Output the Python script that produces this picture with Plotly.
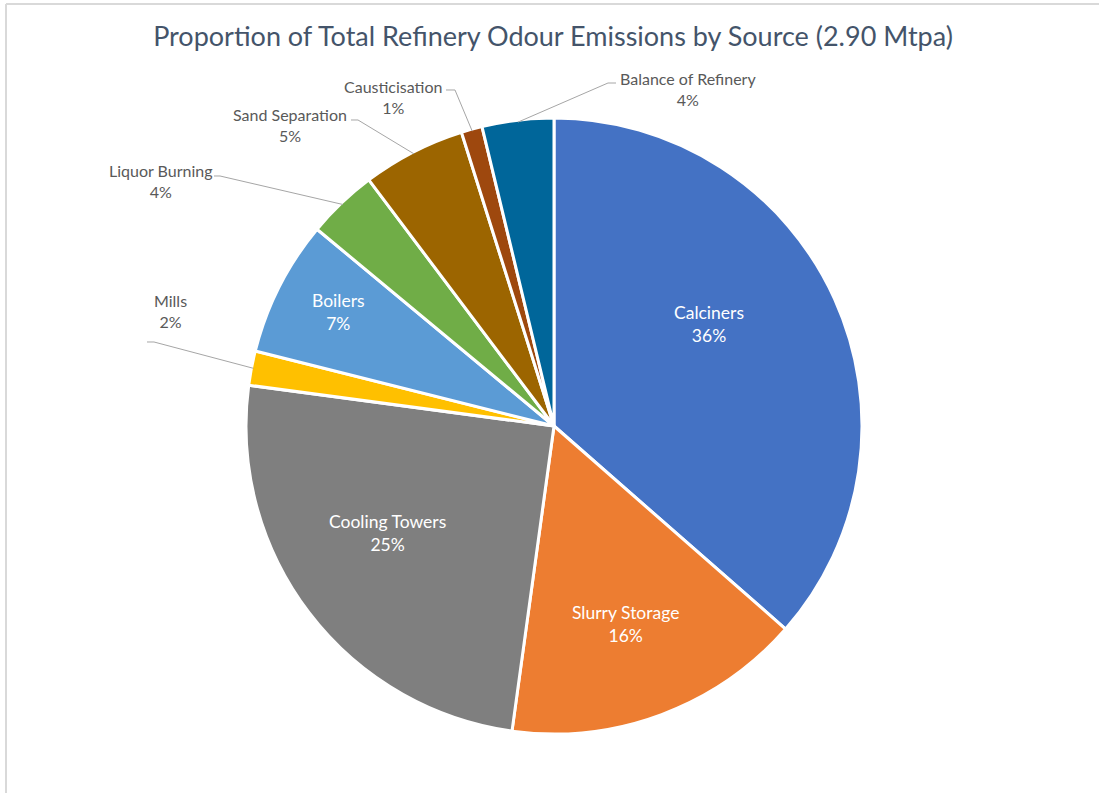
import math
import plotly.graph_objects as go

# ---- data ----
sources = ["Calciners", "Slurry Storage", "Cooling Towers", "Mills", "Boilers",
           "Liquor Burning", "Sand Separation", "Causticisation", "Balance of Refinery"]
shares = [36.4, 15.7, 24.9, 1.8, 7.1, 3.7, 5.4, 1.1, 3.75]
colors = ["#4472C4", "#ED7D31", "#7F7F7F", "#FFC000", "#5B9BD5",
          "#70AD47", "#9C6500", "#9E480E", "#00669A"]
title = "Proportion of Total Refinery Odour Emissions by Source (2.90 Mtpa)"

# ---- layout / style ----
W, H = 1099, 793
CX, CY, R = 554, 426, 306  # pie centre and radius in pixels
R_DOM = R + 2              # domain half-size (plotly draws slightly inside it)

def px(x):
    return x / W

def py(y):
    return 1 - y / H

total = sum(shares)
pcts = [round(v / total * 100) for v in shares]

# label placement (pixels)
inside_pos = {
    "Calciners": (709, 324),
    "Slurry Storage": (625, 624),
    "Cooling Towers": (387, 533),
    "Boilers": (338, 312),
}
outside_pos = {
    # text centre, leader start points (pixels)
    "Balance of Refinery": ((688, 89), [(616, 83), (608, 83)]),
    "Causticisation": ((393, 97), [(446, 90), (455, 90)]),
    "Sand Separation": ((290, 125), [(351, 120), (358, 120)]),
    "Liquor Burning": ((161, 181), [(214, 176), (220, 176)]),
    "Mills": ((170, 311), [(147, 342), (154, 342)]),
}

fig = go.Figure(go.Pie(
    labels=sources,
    values=shares,
    marker=dict(colors=colors, line=dict(color="white", width=3)),
    sort=False,
    direction="clockwise",
    rotation=0,
    textinfo="none",
    hoverinfo="label+percent",
    showlegend=False,
    domain=dict(x=[px(CX - R_DOM), px(CX + R_DOM)], y=[py(CY + R_DOM), py(CY - R_DOM)]),
))

annotations = []
shapes = []
cum = 0.0
for name, v, p in zip(sources, shares, pcts):
    mid = (cum + v / 2) / total * 2 * math.pi
    cum += v
    ex = CX + R * math.sin(mid)
    ey = CY - R * math.cos(mid)
    txt = f"{name}<br>{p}%"
    if name in inside_pos:
        x, y = inside_pos[name]
        annotations.append(dict(x=px(x), y=py(y), xref="paper", yref="paper",
                                xanchor="center", yanchor="middle",
                                text=txt, showarrow=False, align="center",
                                font=dict(family="Lato", size=17.5, color="white")))
    else:
        (x, y), pts = outside_pos[name]
        annotations.append(dict(x=px(x), y=py(y), xref="paper", yref="paper",
                                xanchor="center", yanchor="middle",
                                text=txt, showarrow=False, align="center",
                                font=dict(family="Lato", size=16, color="#595959")))
        path_pts = pts + [(ex, ey)]
        path = "M " + " L ".join(f"{px(a):.5f},{py(b):.5f}" for a, b in path_pts)
        shapes.append(dict(type="path", path=path, xref="paper", yref="paper",
                           line=dict(color="#A6A6A6", width=1)))

# chart-area border (top & left visible)
shapes.append(dict(type="line", xref="paper", yref="paper", x0=px(6), x1=1, y0=py(4), y1=py(4),
                   line=dict(color="#D9D9D9", width=2)))
shapes.append(dict(type="line", xref="paper", yref="paper", x0=px(6), x1=px(6), y0=py(4), y1=0,
                   line=dict(color="#D9D9D9", width=2)))

fig.update_layout(
    width=W, height=H,
    margin=dict(l=0, r=0, t=0, b=0),
    paper_bgcolor="white", plot_bgcolor="white",
    title=dict(text=title, x=px(553), xanchor="center", y=py(37), yanchor="middle",
               yref="container", xref="paper",
               font=dict(family="Lato", size=27, color="#44546A")),
    annotations=annotations,
    shapes=shapes,
)

fig.write_html("out.html")
